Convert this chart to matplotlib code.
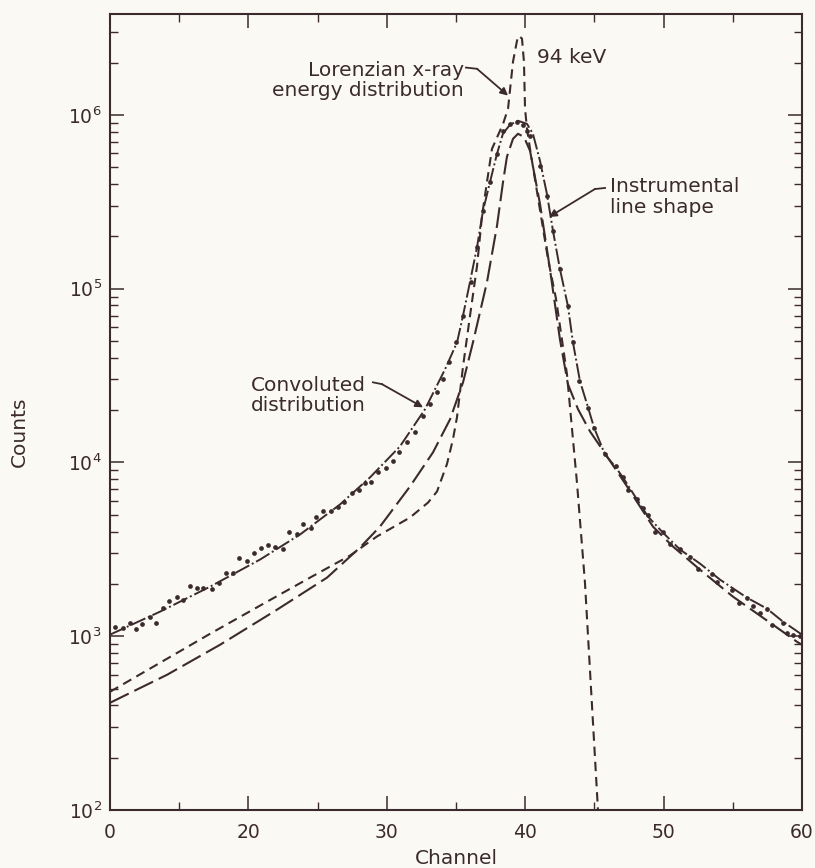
import numpy as np
import matplotlib
matplotlib.use('Agg')
import matplotlib.pyplot as plt
from matplotlib.ticker import LogLocator, MultipleLocator, NullFormatter

ink = '#3b2a2e'
paper = '#fbf9f4'

# x axis runs 10..60 in data units, the printed labels start with "0"
x_ticks = [10, 20, 30, 40, 50, 60]
x_tick_labels = ['0', '20', '30', '40', '50', '60']

# measured spectrum (dots)
dot_ch = [10.36, 10.94, 11.45, 11.88, 12.31, 12.89, 13.32, 13.83, 14.26, 14.84,
          15.27, 15.78, 16.29, 16.72, 17.37, 17.88, 18.38, 18.89, 19.32, 19.90,
          20.40, 20.91, 21.42, 21.92, 22.50, 22.93, 23.51, 23.94, 24.52, 24.88,
          25.39, 25.97, 26.47, 26.91, 27.48, 27.99, 28.42, 28.86, 29.36, 29.94,
          30.45, 30.88, 31.46, 32.04, 32.61, 33.12, 33.63, 34.06, 34.49, 35.00,
          35.50, 36.08, 36.52, 36.95, 37.46, 37.96, 38.39, 38.90, 39.41, 39.84,
          40.13, 40.35, 41.07, 41.57, 42.01, 42.51, 43.09, 43.45, 43.89, 44.54,
          44.97, 45.76, 46.56, 47.06, 47.43, 48.08, 48.51, 48.87, 49.38, 49.96,
          50.46, 51.18, 51.91, 52.49, 53.50, 53.86, 54.94, 55.45, 56.02, 56.46,
          56.96, 57.47, 57.82, 58.62, 58.91, 59.35, 59.85]
dot_counts = [1135, 1120, 1197, 1105, 1180, 1295, 1190, 1460, 1600, 1690,
              1622, 1954, 1905, 1890, 1880, 2035, 2322, 2300, 2833, 2722,
              3027, 3236, 3367, 3281, 3193, 4000, 3896, 4449, 4217, 4884,
              5288, 5223, 5573, 5885, 6627, 6902, 7568, 7674, 8753, 9247,
              10140, 11430, 13040, 14890, 18410, 21580, 25330, 30090, 37670, 49170,
              69500, 109100, 173500, 279900, 411200, 595700, 809100, 887200, 912000, 876800,
              809100, 756800, 508200, 341200, 214800, 129700, 79250, 49170, 29310, 20460,
              15710, 11120, 9484, 8204, 6983, 6120, 5433, 4954, 4000, 3990,
              3412, 3155, 2873, 2449, 2291, 2061, 1854, 1560, 1667, 1500,
              1366, 1441, 1165, 1197, 1048, 1021, 1007]

# convoluted distribution
conv_ch = [10.0, 13.61, 17.23, 20.84, 23.73, 26.62, 28.79, 30.95, 32.76, 34.21,
           35.08, 35.50, 36.01, 36.52, 36.95, 37.46, 37.96, 38.39, 38.90, 39.48,
           40.13, 40.56, 41.07, 41.57, 42.01, 42.51, 43.09, 43.45, 43.96, 44.54,
           44.97, 45.76, 46.49, 47.06, 48.08, 48.87, 49.88, 51.18, 52.63, 54.07,
           56.02, 57.47, 58.55, 60.0]
conv_counts = [1021, 1384, 1928, 2761, 3848, 5729, 8204, 12360, 20220, 34360,
               49170, 69500, 109100, 173500, 279900, 411200, 595700, 778000, 876800, 924700,
               887200, 778000, 543300, 350800, 214800, 129700, 79250, 49170, 29310, 20750,
               15920, 11120, 9484, 8204, 6120, 4884, 4000, 3155, 2618, 2118,
               1667, 1441, 1227, 1021]

# instrumental line shape
inst_ch = [10.0, 14.12, 17.95, 22.07, 25.68, 28.06, 29.51, 31.68, 33.34, 34.57,
           35.51, 36.23, 37.24, 37.96, 38.40, 38.68, 39.12, 39.48, 39.91, 40.35,
           41.07, 41.79, 42.51, 43.09, 43.82, 44.68, 45.91, 47.36, 49.23, 50.68,
           52.63, 55.01, 57.90, 59.64, 60.0]
inst_counts = [414, 600, 893, 1422, 2173, 3236, 4276, 7278, 11430, 17700,
               28910, 49170, 109100, 229100, 411200, 572800, 727800, 778000, 746500, 620900,
               306900, 129400, 51170, 28180, 20220, 15100, 10840, 7278, 4276, 3281,
               2415, 1690, 1165, 929, 893]

# Lorenzian x-ray energy distribution
lor_ch = [10.0, 13.61, 17.23, 20.84, 24.45, 27.34, 29.29, 31.68, 32.98, 33.63,
          34.35, 34.78, 35.07, 35.51, 36.01, 36.52, 36.88, 37.24, 37.60, 38.40,
          38.76, 39.12, 39.41, 39.55, 39.77, 39.91, 39.99, 40.13, 40.35, 41.65,
          42.23, 43.02, 43.74, 44.32, 44.68, 45.26]
lor_counts = [479, 703, 1033, 1500, 2173, 2911, 3750, 4821, 5875, 6808,
              9800, 13580, 18160, 35730, 69500, 134900, 261800, 411200, 636800, 887200,
              1084000, 2023000, 2673000, 2851000, 2742000, 2023000, 1084000, 831800, 636800, 147900,
              87100, 32140, 7674, 2032, 641, 100]


def leader(ax, start, bend, tip):
    # label line with a small arrow head at the curve
    ax.plot([start[0], bend[0]], [start[1], bend[1]], color=ink, lw=1.3)
    ax.annotate('', xy=tip, xytext=bend,
                arrowprops=dict(arrowstyle='-|>', color=ink, lw=1.3,
                                mutation_scale=11, shrinkA=0, shrinkB=0))


fig = plt.figure(figsize=(8.15, 8.68), dpi=100, facecolor=paper)
ax = fig.add_axes([0.135, 0.0668, 0.849, 0.917])
ax.set_facecolor(paper)

ax.plot(lor_ch, lor_counts, color=ink, lw=1.5, linestyle=(0, (4.5, 2.8)))
ax.plot(inst_ch, inst_counts, color=ink, lw=1.5, linestyle=(0, (10, 3)))
ax.plot(conv_ch, conv_counts, color=ink, lw=1.4, linestyle=(0, (8, 1.5, 1, 1.5)))
ax.plot(dot_ch, dot_counts, 'o', ms=3.4, color=ink, mec='none')

ax.set_yscale('log')
ax.set_xlim(10, 60)
ax.set_ylim(100, 3.8e6)

ax.set_xticks(x_ticks)
ax.set_xticklabels(x_tick_labels)
ax.xaxis.set_minor_locator(MultipleLocator(5))
ax.yaxis.set_major_locator(LogLocator(base=10, numticks=10))
ax.yaxis.set_minor_locator(LogLocator(base=10, subs=np.arange(2, 10), numticks=30))
ax.yaxis.set_minor_formatter(NullFormatter())

ax.tick_params(which='both', direction='in', top=True, right=True, color=ink, labelcolor=ink)
ax.tick_params(which='major', length=10, width=1.1, labelsize=13.5)
ax.tick_params(which='minor', length=5.5, width=1.0)
ax.tick_params(axis='x', pad=9)
ax.tick_params(axis='y', pad=6)
for s in ax.spines.values():
    s.set_color(ink)
    s.set_linewidth(1.5)

ax.set_xlabel('Channel', fontsize=14.5, color=ink, va='center')
ax.xaxis.set_label_coords(0.5, -0.0603)
ax.set_ylabel('Counts', fontsize=14.5, color=ink, va='center')
ax.yaxis.set_label_coords(-0.1315, 0.475)

# annotations
ax.text(40.85, 2.13e6, '94 keV', fontsize=14.5, color=ink, ha='left', va='center')
ax.text(35.55, 1.58e6, 'Lorenzian x-ray\nenergy distribution', fontsize=14.5, color=ink,
        ha='right', va='center', multialignment='right', linespacing=1.1)
leader(ax, (35.72, 1.87e6), (36.52, 1.84e6), (38.76, 1.29e6))

ax.text(24.31, 24300, 'Convoluted\ndistribution', fontsize=14.5, color=ink,
        ha='center', va='center', linespacing=1.1)
leader(ax, (29.0, 28900), (29.65, 28200), (32.62, 20750))

ax.text(46.13, 336500, 'Instrumental\nline shape', fontsize=14.5, color=ink,
        ha='left', va='center', multialignment='left', linespacing=1.1)
leader(ax, (45.77, 379500), (45.04, 374100), (41.72, 258200))

fig.savefig('out.png', dpi=100, facecolor=paper)
